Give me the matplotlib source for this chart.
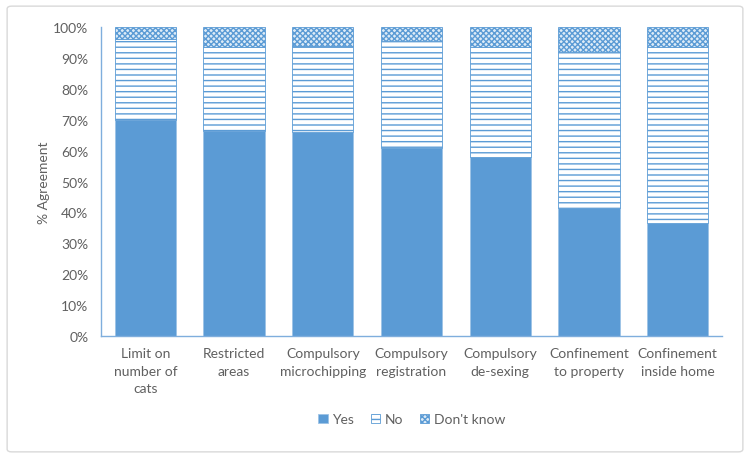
import numpy as np
import matplotlib
matplotlib.use('Agg')
import matplotlib.pyplot as plt
from matplotlib.patches import FancyBboxPatch

# data (% of respondents)
categories = ['Limit on\nnumber of\ncats', 'Restricted\nareas', 'Compulsory\nmicrochipping',
              'Compulsory\nregistration', 'Compulsory\nde-sexing', 'Confinement\nto property',
              'Confinement\ninside home']
yes = [70.0, 66.5, 66.0, 61.0, 58.0, 41.5, 36.7]
dont_know = [4.0, 6.5, 6.0, 4.5, 6.5, 8.0, 6.5]
no = [100 - y - d for y, d in zip(yes, dont_know)]
yticks = [0, 10, 20, 30, 40, 50, 60, 70, 80, 90, 100]

blue = '#5B9BD5'
txt = '#606060'

plt.rcParams['font.family'] = ['Lato', 'DejaVu Sans']
plt.rcParams['hatch.linewidth'] = 1.0

fig = plt.figure(figsize=(7.5, 4.6), dpi=100)
ax = fig.add_axes([0.1347, 0.2674, 0.828, 0.6716])

x = np.arange(len(categories))
w = 0.69
ax.bar(x, yes, w, color=blue, edgecolor='#9DC3E6', linewidth=0.6, label='Yes')
ax.bar(x, no, w, bottom=yes, color='white', edgecolor=blue, hatch='---',
       linewidth=0.6, label='No')
bottom2 = [a + b for a, b in zip(yes, no)]
ax.bar(x, dont_know, w, bottom=bottom2, color='#DDEBF7', edgecolor=blue, hatch='xxxxxx',
       linewidth=0.6, label="Don't know")

ax.set_xlim(-0.5, len(categories) - 0.5)
ax.set_ylim(0, 100)
ax.set_yticks(yticks)
ax.set_yticklabels([f'{t}%' for t in yticks])
ax.set_xticks(x)
ax.set_xticklabels(categories, linespacing=1.55)
ax.tick_params(length=0, colors=txt, labelsize=10)
ax.tick_params(axis='y', pad=9)
ax.tick_params(axis='x', pad=8)
for s in ['top', 'right']:
    ax.spines[s].set_visible(False)
for s in ['left', 'bottom']:
    ax.spines[s].set_color('#7FAEDD')
    ax.spines[s].set_linewidth(1.0)

ax.set_ylabel('% Agreement', color=txt, fontsize=10, labelpad=2)

leg = ax.legend(loc='upper center', bbox_to_anchor=(0.5, -0.21), ncol=3, frameon=False,
                fontsize=10, handlelength=0.7, handleheight=0.7, handletextpad=0.3,
                columnspacing=1.2)
for t in leg.get_texts():
    t.set_color(txt)

border = FancyBboxPatch((0.0095, 0.0155), 0.981, 0.969, boxstyle='round,pad=0,rounding_size=0.006',
                        transform=fig.transFigure, facecolor='none', edgecolor='#D9D9D9',
                        linewidth=1.0)
fig.patches.append(border)

fig.savefig('out.png', dpi=100)
